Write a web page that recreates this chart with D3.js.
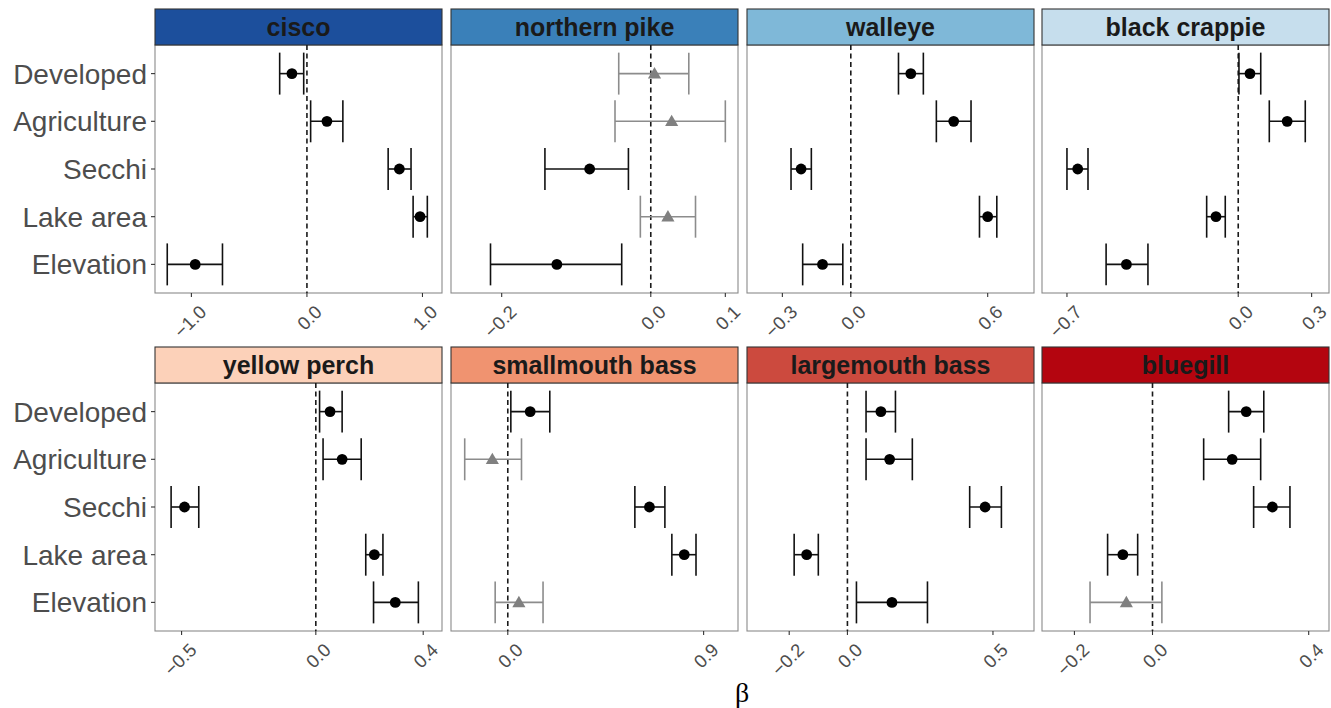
<!DOCTYPE html>
<html>
<head>
<meta charset="utf-8">
<script src="https://cdn.jsdelivr.net/npm/d3@7"></script>
<style>
  body { margin: 0; background: #fff; }
  svg { display: block; font-family: "Liberation Sans", Arial, sans-serif; }
</style>
</head>
<body>
<div id="chart"></div>
<script>
// Predictors (top to bottom) and species panels
const predictors = ["Developed", "Agriculture", "Secchi", "Lake area", "Elevation"];
const species = ["cisco", "northern pike", "walleye", "black crappie",
                 "yellow perch", "smallmouth bass", "largemouth bass", "bluegill"];
const stripColors = ["#1c4f9c", "#3a80b9", "#7fb8d8", "#c6deed",
                     "#fcd1b9", "#f09370", "#cc4a3e", "#b4050f"];

// Coefficient estimates and interval bounds, one row per species, in predictor order
const estimates = [
  [-0.130, 0.173, 0.800, 0.979, -0.967],
  [0.005, 0.028, -0.082, 0.023, -0.126],
  [0.263, 0.451, -0.218, 0.600, -0.124],
  [0.048, 0.200, -0.656, -0.091, -0.457],
  [0.053, 0.098, -0.489, 0.218, 0.296],
  [0.103, -0.071, 0.651, 0.811, 0.051],
  [0.115, 0.145, 0.473, -0.140, 0.153],
  [0.240, 0.204, 0.307, -0.076, -0.067]
];
const lower = [
  [-0.236, 0.032, 0.703, 0.919, -1.209],
  [-0.043, -0.048, -0.142, -0.014, -0.215],
  [0.209, 0.375, -0.262, 0.564, -0.211],
  [0.003, 0.127, -0.700, -0.129, -0.540],
  [0.014, 0.027, -0.539, 0.186, 0.215],
  [0.014, -0.198, 0.584, 0.754, -0.058],
  [0.064, 0.064, 0.420, -0.183, 0.031],
  [0.195, 0.131, 0.259, -0.115, -0.160]
];
const upper = [
  [-0.028, 0.311, 0.901, 1.042, -0.731],
  [0.051, 0.100, -0.030, 0.060, -0.039],
  [0.318, 0.527, -0.173, 0.640, -0.035],
  [0.092, 0.274, -0.614, -0.053, -0.369],
  [0.098, 0.169, -0.436, 0.250, 0.382],
  [0.193, 0.063, 0.722, 0.865, 0.162],
  [0.165, 0.223, 0.529, -0.100, 0.275],
  [0.285, 0.277, 0.352, -0.038, 0.024]
];
// true = interval excludes zero (black circle), false = grey triangle
const significant = [
  [true, true, true, true, true],
  [false, false, true, false, true],
  [true, true, true, true, true],
  [true, true, true, true, true],
  [true, true, true, true, true],
  [true, false, true, true, false],
  [true, true, true, true, true],
  [true, true, true, true, false]
];

// Free x scales: limits and breaks per panel
const xDomains = [
  [-1.315, 1.169], [-0.268, 0.117], [-0.455, 0.803], [-0.802, 0.371],
  [-0.599, 0.470], [-0.261, 1.058], [-0.345, 0.641], [-0.283, 0.452]
];
const xTicks = [
  [-1, 0, 1], [-0.2, 0, 0.1], [-0.3, 0, 0.6], [-0.7, 0, 0.3],
  [-0.5, 0, 0.4], [0, 0.9], [-0.2, 0, 0.5], [-0.2, 0, 0.4]
];

const width = 1331, height = 708;
const colLeft = [155, 451, 747, 1042];
const panelW = 287;
const stripTop = [9, 347];
const stripH = 36;
const plotH = 248;

const svg = d3.select("#chart").append("svg")
  .attr("width", width).attr("height", height);

const fmt = v => d3.format(".1f")(v).replace("-", "\u2212");

species.forEach((sp, i) => {
  const row = Math.floor(i / 4), col = i % 4;
  const left = colLeft[col];
  const top = stripTop[row] + stripH;
  const bottom = top + plotH;

  const x = d3.scaleLinear().domain(xDomains[i]).range([left, left + panelW]);
  const y = d3.scalePoint().domain(predictors).range([top, bottom]).padding(0.6);
  const cap = y.step() * 0.44;

  const g = svg.append("g");

  // panel background + border
  g.append("rect")
    .attr("x", left).attr("y", top).attr("width", panelW).attr("height", plotH)
    .attr("fill", "#fff").attr("stroke", "#8a8a8a").attr("stroke-width", 1.1);

  // strip
  g.append("rect")
    .attr("x", left).attr("y", stripTop[row]).attr("width", panelW).attr("height", stripH)
    .attr("fill", stripColors[i]).attr("stroke", "#333").attr("stroke-width", 1.1);
  g.append("text")
    .attr("x", left + panelW / 2).attr("y", stripTop[row] + stripH / 2 + 9)
    .attr("text-anchor", "middle")
    .attr("font-size", 25).attr("font-weight", "bold").attr("fill", "#1a1a1a")
    .text(sp);

  // zero reference line
  g.append("line")
    .attr("x1", x(0)).attr("x2", x(0)).attr("y1", top).attr("y2", bottom)
    .attr("stroke", "#1a1a1a").attr("stroke-width", 1.6).attr("stroke-dasharray", "5,3.5");

  const rows = predictors.map((p, k) => ({
    p, est: estimates[i][k], lo: lower[i][k], hi: upper[i][k], sig: significant[i][k]
  }));

  // error bars
  const eb = g.append("g").selectAll("g").data(rows).join("g")
    .attr("stroke", d => d.sig ? "#111" : "#8c8c8c")
    .attr("stroke-width", 1.6);
  eb.append("line")
    .attr("x1", d => x(d.lo)).attr("x2", d => x(d.hi))
    .attr("y1", d => y(d.p)).attr("y2", d => y(d.p));
  eb.append("line")
    .attr("x1", d => x(d.lo)).attr("x2", d => x(d.lo))
    .attr("y1", d => y(d.p) - cap).attr("y2", d => y(d.p) + cap);
  eb.append("line")
    .attr("x1", d => x(d.hi)).attr("x2", d => x(d.hi))
    .attr("y1", d => y(d.p) - cap).attr("y2", d => y(d.p) + cap);

  // points
  g.append("g").selectAll("circle").data(rows.filter(d => d.sig)).join("circle")
    .attr("cx", d => x(d.est)).attr("cy", d => y(d.p)).attr("r", 5.4)
    .attr("fill", "#000");
  g.append("g").selectAll("path").data(rows.filter(d => !d.sig)).join("path")
    .attr("d", d3.symbol(d3.symbolTriangle, 75))
    .attr("transform", d => `translate(${x(d.est)},${y(d.p) + 1})`)
    .attr("fill", "#808080");

  // x axis ticks and rotated labels
  const ax = g.append("g");
  ax.selectAll("line").data(xTicks[i]).join("line")
    .attr("x1", d => x(d)).attr("x2", d => x(d))
    .attr("y1", bottom).attr("y2", bottom + 4)
    .attr("stroke", "#333").attr("stroke-width", 1.1);
  ax.selectAll("text").data(xTicks[i]).join("text")
    .attr("transform", d => `translate(${x(d) + 7},${bottom + 11}) rotate(-45)`)
    .attr("text-anchor", "end").attr("dy", "0.7em")
    .attr("font-size", 18.5).attr("fill", "#4d4d4d")
    .text(fmt);

  // y axis on first column only
  if (col === 0) {
    const ay = g.append("g");
    ay.selectAll("line").data(predictors).join("line")
      .attr("x1", left - 4).attr("x2", left)
      .attr("y1", d => y(d)).attr("y2", d => y(d))
      .attr("stroke", "#333").attr("stroke-width", 1.1);
    ay.selectAll("text").data(predictors).join("text")
      .attr("x", left - 8).attr("y", d => y(d)).attr("dy", "0.36em")
      .attr("text-anchor", "end").attr("font-size", 28).attr("fill", "#4d4d4d")
      .text(d => d);
  }
});

// x axis title
svg.append("text")
  .attr("x", 742).attr("y", 702).attr("text-anchor", "middle")
  .attr("font-family", "'Liberation Serif', 'DejaVu Serif', serif")
  .attr("font-size", 28).attr("fill", "#000")
  .text("\u03b2");
</script>
</body>
</html>
